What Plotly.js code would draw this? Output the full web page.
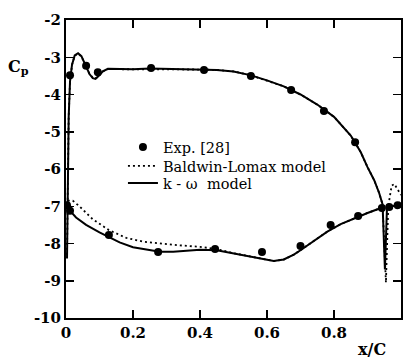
<!DOCTYPE html>
<html>
<head>
<meta charset="utf-8">
<script src="https://cdn.plot.ly/plotly-3.0.1.min.js"></script>
<style>
  html, body { margin: 0; padding: 0; background: #fff; }
  #chart { width: 404px; height: 361px; }
</style>
</head>
<body>
<div id="chart"></div>
<script>
// Measured pressure coefficient (Exp. [28])
const expUpperX  = [0.012, 0.06, 0.095, 0.254, 0.412, 0.552, 0.672, 0.770, 0.863];
const expUpperCp = [-3.48, -3.23, -3.40, -3.29, -3.34, -3.50, -3.88, -4.44, -5.28];
const expLowerX  = [0.003, 0.012, 0.128, 0.275, 0.445, 0.585, 0.70, 0.79, 0.872, 0.943, 0.965, 0.99];
const expLowerCp = [-6.97, -7.12, -7.77, -8.23, -8.15, -8.23, -8.07, -7.50, -7.26, -7.05, -7.02, -6.97];

// k-omega model, upper surface (leading edge to trailing edge)
const kwUpperX  = [0.003, 0.005, 0.008, 0.012, 0.018, 0.026, 0.036, 0.046, 0.058, 0.07, 0.08, 0.088, 0.098, 0.11, 0.125, 0.15, 0.2, 0.25, 0.3, 0.35, 0.4, 0.45, 0.5, 0.55, 0.6, 0.65, 0.7, 0.75, 0.8, 0.85, 0.88, 0.9, 0.92, 0.935, 0.945, 0.952, 0.958, 0.97, 0.985, 1.0];
const kwUpperCp = [-8.4, -6.0, -4.6, -3.65, -3.2, -2.95, -2.89, -2.97, -3.2, -3.45, -3.56, -3.58, -3.5, -3.38, -3.31, -3.32, -3.32, -3.3, -3.31, -3.32, -3.33, -3.34, -3.38, -3.48, -3.62, -3.78, -4.0, -4.27, -4.6, -5.1, -5.55, -5.95, -6.3, -6.65, -6.95, -8.7, -7.08, -7.0, -6.98, -6.95];
// k-omega model, lower surface
const kwLowerX  = [0.003, 0.008, 0.015, 0.03, 0.06, 0.1, 0.128, 0.16, 0.2, 0.25, 0.28, 0.32, 0.36, 0.4, 0.45, 0.5, 0.55, 0.6, 0.62, 0.65, 0.68, 0.7, 0.74, 0.78, 0.82, 0.86, 0.9, 0.93, 0.945];
const kwLowerCp = [-6.95, -7.05, -7.15, -7.3, -7.5, -7.7, -7.83, -7.97, -8.1, -8.18, -8.22, -8.22, -8.2, -8.17, -8.18, -8.26, -8.34, -8.44, -8.47, -8.43, -8.3, -8.18, -7.92, -7.68, -7.48, -7.32, -7.18, -7.08, -7.03];

// Baldwin-Lomax model, upper surface
const blUpperX  = [0.003, 0.005, 0.008, 0.012, 0.018, 0.026, 0.036, 0.046, 0.058, 0.07, 0.08, 0.088, 0.098, 0.11, 0.125, 0.15, 0.2, 0.25, 0.3, 0.35, 0.4, 0.45, 0.5, 0.55, 0.6, 0.65, 0.7, 0.75, 0.8, 0.85, 0.88, 0.9, 0.92, 0.935, 0.945, 0.955, 0.962, 0.972, 0.98, 0.99, 1.0];
const blUpperCp = [-8.3, -6.0, -4.6, -3.65, -3.2, -2.96, -2.9, -2.98, -3.2, -3.44, -3.55, -3.57, -3.5, -3.38, -3.32, -3.32, -3.32, -3.31, -3.31, -3.32, -3.33, -3.34, -3.38, -3.48, -3.62, -3.78, -4.0, -4.27, -4.6, -5.1, -5.55, -5.95, -6.3, -6.65, -6.95, -9.05, -7.0, -6.45, -6.4, -6.55, -6.7];
// Baldwin-Lomax model, lower surface
const blLowerX  = [0.005, 0.02, 0.04, 0.08, 0.128, 0.18, 0.23, 0.28, 0.34, 0.4, 0.45, 0.5, 0.55, 0.6, 0.62, 0.65, 0.68, 0.7, 0.74, 0.78, 0.82, 0.86, 0.9, 0.93, 0.945];
const blLowerCp = [-6.85, -6.85, -7.0, -7.35, -7.64, -7.85, -7.95, -8.0, -8.05, -8.09, -8.15, -8.26, -8.34, -8.44, -8.47, -8.43, -8.3, -8.18, -7.92, -7.68, -7.48, -7.32, -7.18, -7.08, -7.03];

// Axis ticks
const xTickVals = [0, 0.2, 0.4, 0.6, 0.8, 1];
const xTickText = ['0', '0.2', '0.4', '0.6', '0.8', '1'];
const yTickVals = [-10, -9, -8, -7, -6, -5, -4, -3, -2];
const yTickText = ['-10', '-9', '-8', '-7', '-6', '-5', '-4', '-3', '-2'];

// join upper and lower surfaces into one trace with a gap between them
const joinX = (a, b) => a.concat([null], b);
const bold = arr => arr.map(t => '<b>' + t + '</b>');

const serif = '"DejaVu Serif", serif';

const traces = [
  {
    name: 'Exp. [28]',
    legend: 'legend',
    x: expUpperX.concat(expLowerX),
    y: expUpperCp.concat(expLowerCp),
    mode: 'markers',
    type: 'scatter',
    marker: { color: '#000', size: 8 }
  },
  {
    name: 'Baldwin-Lomax model',
    legend: 'legend2',
    x: joinX(blUpperX, blLowerX),
    y: joinX(blUpperCp, blLowerCp),
    mode: 'lines',
    type: 'scatter',
    connectgaps: false,
    line: { color: '#000', width: 1.8, dash: '2px,3px' }
  },
  {
    name: 'k - \u03c9  model',
    legend: 'legend3',
    x: joinX(kwUpperX, kwLowerX),
    y: joinX(kwUpperCp, kwLowerCp),
    mode: 'lines',
    type: 'scatter',
    connectgaps: false,
    line: { color: '#000', width: 2 }
  }
];

const axisCommon = {
  showline: true,
  linecolor: '#000',
  linewidth: 2,
  mirror: 'ticks',
  ticks: 'inside',
  ticklen: 8,
  tickwidth: 1.5,
  tickcolor: '#000',
  showgrid: false,
  zeroline: false,
  tickfont: { family: serif, size: 15, color: '#000' }
};

// one legend box per row so the rows sit at their own heights
const legendRow = y => ({
  x: 0.17, y: y,
  xanchor: 'left', yanchor: 'top',
  bgcolor: 'rgba(0,0,0,0)',
  font: { family: serif, size: 14.5, color: '#000' },
  itemwidth: 30
});

const layout = {
  width: 404,
  height: 361,
  margin: { l: 66, r: 3, t: 20, b: 43 },
  paper_bgcolor: '#fff',
  plot_bgcolor: '#fff',
  font: { family: serif, color: '#000' },
  showlegend: true,
  legend: legendRow(0.6275),
  legend2: legendRow(0.5637),
  legend3: legendRow(0.5064),
  xaxis: Object.assign({}, axisCommon, {
    range: [0, 1],
    tickvals: xTickVals,
    ticktext: bold(xTickText)
  }),
  yaxis: Object.assign({}, axisCommon, {
    range: [-10, -2],
    tickvals: yTickVals,
    ticktext: bold(yTickText)
  }),
  annotations: [
    {
      text: '<b>C<sub>p</sub></b>',
      xref: 'paper', yref: 'paper',
      x: -0.143, y: 0.84,
      xanchor: 'center', yanchor: 'middle',
      showarrow: false,
      font: { family: serif, size: 16, color: '#000' }
    },
    {
      text: '<b>x/C</b>',
      xref: 'paper', yref: 'paper',
      x: 0.913, y: -0.107,
      xanchor: 'center', yanchor: 'middle',
      showarrow: false,
      font: { family: serif, size: 16, color: '#000' }
    }
  ]
};

Plotly.newPlot('chart', traces, layout, { staticPlot: true, displayModeBar: false });
</script>
</body>
</html>
